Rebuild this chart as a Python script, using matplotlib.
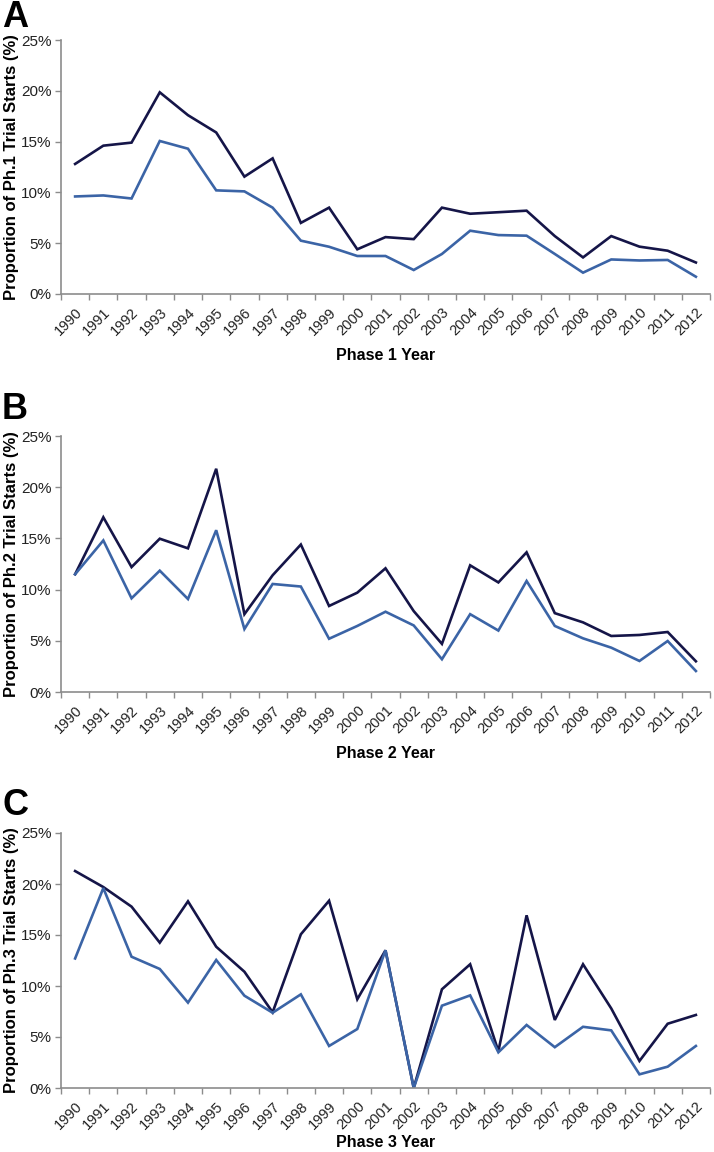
import matplotlib
matplotlib.use("Agg")
import matplotlib.pyplot as plt
from matplotlib.ticker import FixedLocator, PercentFormatter

plt.rcParams['font.family'] = ['Liberation Sans', 'DejaVu Sans']

years = [str(y) for y in range(1990, 2013)]

ph1_dark = [12.8, 14.6, 14.9, 19.85, 17.6, 15.9, 11.55, 13.35, 7.0, 8.5, 4.4, 5.6,
            5.4, 8.5, 7.9, 8.05, 8.2, 5.7, 3.6, 5.7, 4.66, 4.26, 3.1]
ph1_light = [9.6, 9.7, 9.4, 15.06, 14.3, 10.2, 10.1, 8.5, 5.25, 4.65, 3.74, 3.74,
             2.36, 3.94, 6.23, 5.8, 5.74, 3.94, 2.1, 3.4, 3.3, 3.35, 1.7]

ph2_dark = [11.5, 17.06, 12.2, 14.97, 14.03, 21.8, 7.6, 11.4, 14.4, 8.4, 9.7, 12.08,
            7.9, 4.7, 12.37, 10.7, 13.64, 7.7, 6.8, 5.47, 5.57, 5.86, 3.0]
ph2_light = [11.5, 14.8, 9.15, 11.85, 9.08, 15.8, 6.15, 10.55, 10.3, 5.2, 6.45, 7.84,
             6.5, 3.2, 7.6, 6.0, 10.84, 6.45, 5.24, 4.33, 3.03, 4.98, 2.05]

ph3_dark = [21.27, 19.7, 17.78, 14.25, 18.3, 13.85, 11.4, 7.42, 15.07, 18.36, 8.7, 13.5,
            0.0, 9.68, 12.13, 3.6, 16.93, 6.67, 12.13, 7.8, 2.65, 6.3, 7.16]
ph3_light = [12.7, 19.6, 12.87, 11.67, 8.37, 12.55, 9.05, 7.38, 9.18, 4.12, 5.78, 13.5,
             0.0, 8.07, 9.08, 3.5, 6.18, 4.0, 6.0, 5.65, 1.34, 2.09, 4.12]

panels = [
    ("A", "Proportion of Ph.1 Trial Starts (%)", "Phase 1 Year", ph1_dark, ph1_light),
    ("B", "Proportion of Ph.2 Trial Starts (%)", "Phase 2 Year", ph2_dark, ph2_light),
    ("C", "Proportion of Ph.3 Trial Starts (%)", "Phase 3 Year", ph3_dark, ph3_light),
]

dark_col = "#151548"
light_col = "#3b64a6"
axis_col = "#8c8c8c"

W, H = 714, 1152
fig = plt.figure(figsize=(W / 100, H / 100), dpi=100)

tops = [40, 436, 833]
bottoms = [294, 692, 1088]
left_px, right_px = 61, 710
label_tops = [0, 392, 788]
xlabel_pads = [7, 7, 2]

for i, (letter, ylab, xlab, dark, light) in enumerate(panels):
    b = 1 - bottoms[i] / H
    t = 1 - tops[i] / H
    ax = fig.add_axes([left_px / W, b, (right_px - left_px) / W, t - b])
    xs = [k + 0.5 for k in range(len(years))]
    ax.plot(xs, dark, color=dark_col, lw=1.9, solid_joinstyle='miter')
    ax.plot(xs, light, color=light_col, lw=1.9, solid_joinstyle='miter')
    ax.set_xlim(0, len(years))
    ax.set_ylim(0, 25)
    ax.yaxis.set_major_locator(FixedLocator([0, 5, 10, 15, 20, 25]))
    ax.yaxis.set_major_formatter(PercentFormatter(decimals=0))
    ax.set_xticks(xs)
    ax.set_xticklabels(years, rotation=45, ha='right', rotation_mode='anchor')
    ax.set_xticks(range(len(years) + 1), minor=True)
    ax.tick_params(axis='x', which='major', length=0, pad=8, labelsize=10.5,
                   colors='#222222')
    ax.tick_params(axis='x', which='minor', length=4, width=1, color=axis_col)
    ax.tick_params(axis='y', which='major', length=4, width=1, color=axis_col,
                   labelsize=11, labelcolor='#222222', pad=3)
    for s in ['top', 'right']:
        ax.spines[s].set_visible(False)
    for s in ['left', 'bottom']:
        ax.spines[s].set_color(axis_col)
        ax.spines[s].set_linewidth(1.2)
    ax.set_ylabel(ylab, fontsize=12, fontweight='bold', labelpad=1)
    ax.set_xlabel(xlab, fontsize=11.5, fontweight='bold', labelpad=xlabel_pads[i])
    fig.text(2 / W, 1 - label_tops[i] / H, letter, fontsize=26, fontweight='bold',
             ha='left', va='top')

fig.savefig("out.png", dpi=100)
